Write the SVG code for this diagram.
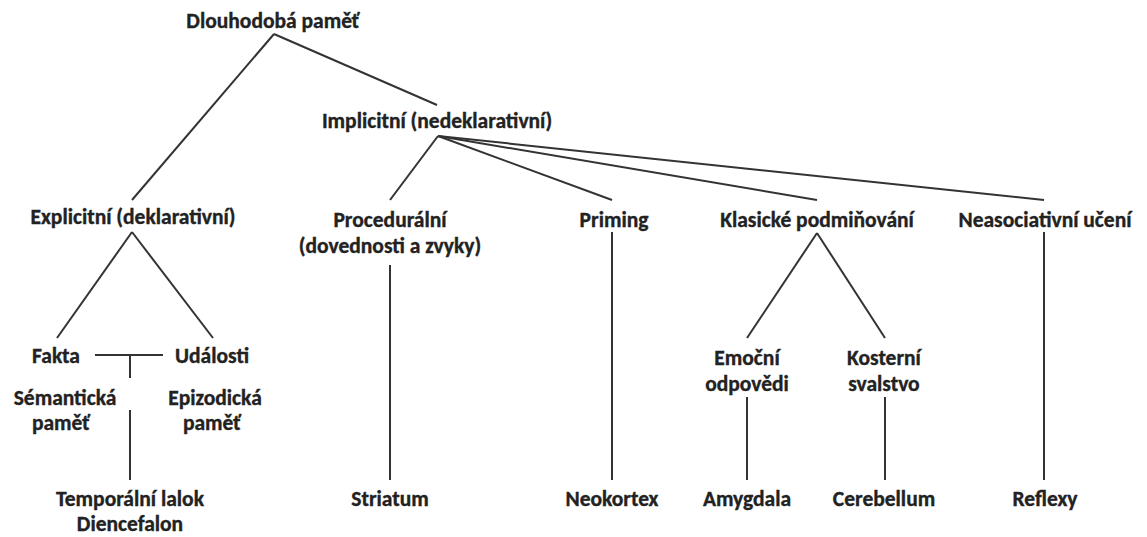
<svg xmlns="http://www.w3.org/2000/svg" width="1147" height="537" viewBox="0 0 1147 537">
<style>
text{font-family:Carlito,Lato,"Liberation Sans",sans-serif;font-weight:bold;font-size:21.5px;fill:#222;stroke:#222;stroke-width:0.35;text-anchor:middle}
.c line{stroke:#333;stroke-width:2;stroke-linecap:butt}
</style>
<rect width="1147" height="537" fill="#fff"/>
<g class="c" id="connectors">
<line x1="274" y1="34" x2="132" y2="200"/>
<line x1="274" y1="34" x2="437" y2="105"/>
<line x1="438" y1="136" x2="390" y2="200"/>
<line x1="438" y1="136" x2="612" y2="200"/>
<line x1="438" y1="136" x2="817" y2="200"/>
<line x1="438" y1="136" x2="1044" y2="200"/>
<line x1="132" y1="232" x2="57" y2="338"/>
<line x1="132" y1="232" x2="213" y2="338"/>
<line x1="95" y1="355" x2="163" y2="355"/>
<line x1="130" y1="355" x2="130" y2="378"/>
<line x1="130" y1="410" x2="130" y2="480"/>
<line x1="390" y1="265" x2="390" y2="480"/>
<line x1="612" y1="232" x2="612" y2="480"/>
<line x1="817" y1="233" x2="747" y2="338"/>
<line x1="817" y1="233" x2="885" y2="338"/>
<line x1="747" y1="397" x2="747" y2="480"/>
<line x1="885" y1="397" x2="885" y2="480"/>
<line x1="1044" y1="232" x2="1044" y2="480"/>
</g>
<g id="root"><text x="273" y="28">Dlouhodobá paměť</text></g>
<g id="implicit"><text x="437" y="128">Implicitní (nedeklarativní)</text></g>
<g id="explicit"><text x="133" y="224">Explicitní (deklarativní)</text></g>
<g id="procedural"><text x="390" y="227">Procedurální</text><text x="390" y="253">(dovednosti a zvyky)</text></g>
<g id="priming"><text x="614" y="227">Priming</text></g>
<g id="classical"><text x="817" y="227">Klasické podmiňování</text></g>
<g id="nonassoc"><text x="1045" y="227">Neasociativní učení</text></g>
<g id="fakta"><text x="56" y="363">Fakta</text></g>
<g id="udalosti"><text x="212" y="363">Události</text></g>
<g id="semantic"><text x="65" y="405">Sémantická</text><text x="61" y="430">paměť</text></g>
<g id="episodic"><text x="215" y="405">Epizodická</text><text x="212" y="430">paměť</text></g>
<g id="emotional"><text x="747" y="365">Emoční</text><text x="747" y="391">odpovědi</text></g>
<g id="skeletal"><text x="884" y="365">Kosterní</text><text x="884" y="391">svalstvo</text></g>
<g id="temporal"><text x="130" y="506">Temporální lalok</text><text x="130" y="531">Diencefalon</text></g>
<g id="striatum"><text x="390" y="506">Striatum</text></g>
<g id="neocortex"><text x="612" y="506">Neokortex</text></g>
<g id="amygdala"><text x="747" y="506">Amygdala</text></g>
<g id="cerebellum"><text x="884" y="506">Cerebellum</text></g>
<g id="reflexes"><text x="1045" y="506">Reflexy</text></g>
</svg>
